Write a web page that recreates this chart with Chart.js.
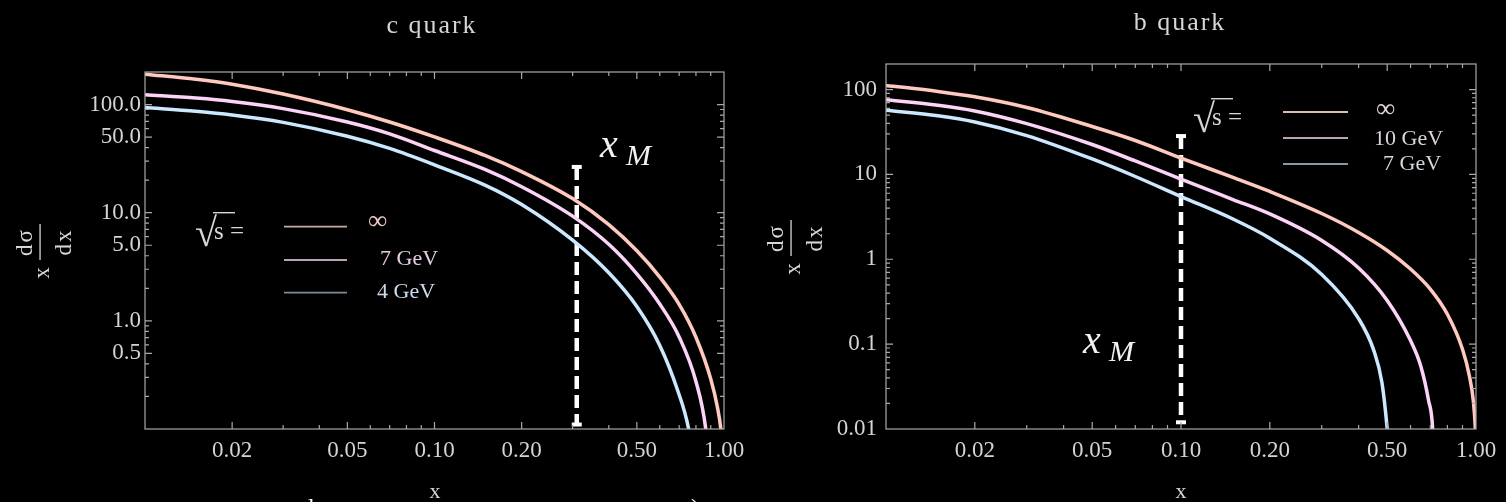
<!DOCTYPE html>
<html>
<head>
<meta charset="utf-8">
<script src="https://cdn.jsdelivr.net/npm/chart.js@4.4.1/dist/chart.umd.min.js"></script>
<style>
  html, body { margin: 0; padding: 0; background: #000; }
  #wrap { position: relative; width: 1506px; height: 502px; overflow: hidden; background: #000; }
  #cLeft { position: absolute; left: 0; top: 0; }
  #cRight { position: absolute; left: 760px; top: 0; }
</style>
</head>
<body>
<div id="wrap">
  <canvas id="cLeft" width="760" height="502"></canvas>
  <canvas id="cRight" width="746" height="502"></canvas>
</div>
<script>
// ---- c quark (left panel)
const cInfX = [0.01, 0.015, 0.02, 0.03, 0.05, 0.07, 0.1, 0.15, 0.2, 0.3, 0.4, 0.5, 0.6, 0.7, 0.8, 0.9, 0.95, 0.975, 0.99];
const cInfY = [191, 171, 154, 125, 89.6, 69, 50.2, 33.7, 24, 13.5, 7.75, 4.44, 2.54, 1.42, 0.705, 0.29, 0.157, 0.1, 0.06];
const c7X = [0.01, 0.015, 0.02, 0.03, 0.05, 0.07, 0.1, 0.15, 0.2, 0.3, 0.4, 0.5, 0.6, 0.7, 0.8, 0.865, 0.88];
const c7Y = [123, 114.7, 106.7, 91.7, 69, 53.6, 37.6, 25, 17.4, 9.3, 5.1, 2.72, 1.43, 0.71, 0.275, 0.1, 0.06];
const c4X = [0.01, 0.015, 0.02, 0.03, 0.05, 0.07, 0.1, 0.15, 0.2, 0.3, 0.4, 0.5, 0.6, 0.69, 0.755, 0.77];
const c4Y = [93.8, 86.5, 80, 68.4, 50.9, 39.3, 27.7, 17.9, 11.9, 5.57, 2.78, 1.357, 0.593, 0.232, 0.1, 0.07];
const cXM = 0.31;
const cXMSpan = [26.5, 0.11];

// ---- b quark (right panel)
const bInfX = [0.01, 0.015, 0.02, 0.03, 0.05, 0.07, 0.1, 0.15, 0.2, 0.3, 0.4, 0.5, 0.6, 0.7, 0.8, 0.9, 0.95, 0.98, 0.995, 1.0];
const bInfY = [112, 94.9, 82.2, 61.5, 36.7, 25.1, 15.6, 9.2, 6.29, 3.46, 2.07, 1.27, 0.768, 0.446, 0.225, 0.087, 0.042, 0.021, 0.01, 0.006];
const b10X = [0.01, 0.015, 0.02, 0.03, 0.05, 0.07, 0.1, 0.15, 0.2, 0.3, 0.4, 0.5, 0.6, 0.65, 0.69, 0.713, 0.72];
const b10Y = [76, 65.4, 56, 39.7, 22.5, 14.4, 8.8, 5.06, 3.42, 1.665, 0.789, 0.327, 0.11, 0.055, 0.022, 0.01, 0.004];
const b7X = [0.01, 0.015, 0.02, 0.03, 0.05, 0.07, 0.1, 0.15, 0.2, 0.3, 0.4, 0.45, 0.48, 0.5, 0.51];
const b7Y = [57, 49.1, 41.5, 28.7, 15.2, 9.45, 5.48, 2.98, 1.77, 0.662, 0.2, 0.085, 0.035, 0.01, 0.004];
const bXM = 0.1;
const bXMSpan = [28.3, 0.012];

// ---- ticks and labels
const xTicks = [0.02, 0.05, 0.1, 0.2, 0.5, 1];
const xTickLabels = ['0.02', '0.05', '0.10', '0.20', '0.50', '1.00'];
const cYTicks = [0.5, 1, 5, 10, 50, 100];
const cYTickLabels = ['0.5', '1.0', '5.0', '10.0', '50.0', '100.0'];
const bYTicks = [0.01, 0.1, 1, 10, 100];
const bYTickLabels = ['0.01', '0.1', '1', '10', '100'];
const cLegend = ['\u221E', '7 GeV', '4 GeV'];
const bLegend = ['\u221E', '10 GeV', '7 GeV'];

const colInf = '#ffc9bf', colMid = '#fdd3f8', colLow = '#cce8ff';
const SERIF = '"Liberation Serif", "DejaVu Serif", serif';

function pts(xs, ys) { return xs.map((x, i) => ({ x: x, y: ys[i] })); }

function curve(label, xs, ys, color) {
  return { label: label, data: pts(xs, ys), borderColor: color, borderWidth: 3.5,
           pointRadius: 0, cubicInterpolationMode: 'monotone', clip: 0, fill: false };
}

function marker(x, span) {
  return { label: 'xM', data: [{ x: x, y: span[0] }, { x: x, y: span[1] }],
           borderColor: '#ffffff', borderWidth: 4.5, borderDash: [13, 6],
           pointStyle: 'line', pointRadius: 5, pointBorderWidth: 4,
           pointBorderColor: '#ffffff', clip: false, tension: 0 };
}

function minorTicks(min, max, majors) {
  const out = [];
  for (let d = min; d < max * 1.0001; d *= 10) {
    for (let k = 1; k <= 9; k++) {
      const v = +(k * d).toPrecision(6);
      if (v >= min * 0.9999 && v <= max * 1.0001 && !majors.some(m => Math.abs(m - v) < v * 1e-6)) out.push(v);
    }
  }
  return out;
}

// frame with inward ticks on all four sides
const framePlugin = {
  id: 'frame',
  afterDatasetsDraw(chart) {
    const { ctx, chartArea: a, scales: { x, y } } = chart;
    const f = chart.options.plugins.frame;
    ctx.save();
    ctx.strokeStyle = '#a9a9a9';
    ctx.lineWidth = 1.2;
    ctx.strokeRect(a.left, a.top, a.right - a.left, a.bottom - a.top);
    const xs = [[f.xMajor, 7], [minorTicks(x.min, x.max, f.xMajor), 4]];
    const ys = [[f.yMajor, 7], [minorTicks(y.min, y.max, f.yMajor), 4]];
    ctx.beginPath();
    xs.forEach(([vals, len]) => vals.forEach(v => {
      const p = x.getPixelForValue(v);
      if (p < a.left + 1 || p > a.right - 1) return;
      ctx.moveTo(p, a.bottom); ctx.lineTo(p, a.bottom - len);
      ctx.moveTo(p, a.top); ctx.lineTo(p, a.top + len);
    }));
    ys.forEach(([vals, len]) => vals.forEach(v => {
      const p = y.getPixelForValue(v);
      if (p < a.top + 1 || p > a.bottom - 1) return;
      ctx.moveTo(a.left, p); ctx.lineTo(a.left + len, p);
      ctx.moveTo(a.right, p); ctx.lineTo(a.right - len, p);
    }));
    ctx.stroke();
    ctx.restore();
  }
};

// titles, axis labels, legend, x_M
const decoPlugin = {
  id: 'deco',
  afterDraw(chart) {
    const d = chart.options.plugins.deco;
    const ctx = chart.ctx;
    ctx.save();
    ctx.textBaseline = 'alphabetic';
    ctx.fillStyle = '#d6d6d6';

    // title
    ctx.font = '26px ' + SERIF;
    ctx.letterSpacing = '2px';
    ctx.textAlign = 'center';
    ctx.fillText(d.title.text, d.title.x, d.title.y);

    // x axis label
    ctx.font = '22px ' + SERIF;
    ctx.letterSpacing = '0px';
    ctx.fillText('x', d.xLabel.x, d.xLabel.y);

    // y axis label: x dσ/dx, rotated
    ctx.save();
    ctx.translate(d.yLabel.x, d.yLabel.y);
    ctx.rotate(-Math.PI / 2);
    ctx.font = '23px ' + SERIF;
    ctx.letterSpacing = '2px';
    ctx.textAlign = 'center';
    ctx.fillText('d\u03C3', 10, -8);
    ctx.fillText('dx', 10, 31);
    ctx.fillText('x', -20, 9);
    ctx.fillRect(-8, -0.6, 36, 1.3);
    ctx.restore();

    // legend
    const L = d.legend;
    ctx.letterSpacing = '0px';
    ctx.textAlign = 'left';
    ctx.fillStyle = '#d6d6d6';
    ctx.font = '40px ' + SERIF;
    ctx.fillText('\u221A', L.sqrtX - 2, L.sqrtBase + 7);
    ctx.font = '25px ' + SERIF;
    ctx.fillText('s =', L.sqrtX + 17, L.sqrtBase);
    ctx.fillRect(L.sqrtX + 16, L.sqrtBase - 27, 22, 1.4);
    L.lines.forEach((ln, i) => {
      ctx.strokeStyle = L.lineColors[i];
      ctx.lineWidth = 1.8;
      ctx.beginPath(); ctx.moveTo(ln[0], ln[2]); ctx.lineTo(ln[1], ln[2]); ctx.stroke();
    });
    L.labels.forEach((t, i) => {
      const p = L.textPos[i];
      ctx.fillStyle = L.textColors[i];
      ctx.font = (t === '\u221E' ? '27px ' : '22px ') + SERIF;
      ctx.fillText(t, p[0], p[1]);
    });

    // x_M annotation
    ctx.fillStyle = '#f2f2f2';
    ctx.font = 'italic 40px ' + SERIF;
    ctx.fillText('x', d.xm.x, d.xm.y);
    ctx.font = 'italic 30px ' + SERIF;
    ctx.fillText('M', d.xm.x + 26, d.xm.y + 8);

    // glyph tops cut by the lower edge
    if (d.cut) {
      ctx.fillStyle = '#ffffff';
      ctx.font = '24px ' + SERIF;
      d.cut.forEach(c => ctx.fillText(c[0], c[1], c[2]));
    }
    ctx.restore();
  }
};

function makeChart(canvas, o) {
  return new Chart(canvas, {
    type: 'line',
    data: { datasets: o.datasets },
    options: {
      responsive: false,
      animation: false,
      devicePixelRatio: 1,
      layout: { padding: { left: 0, right: o.padRight, top: o.padTop, bottom: 0 } },
      plugins: {
        legend: { display: false },
        title: { display: false },
        tooltip: { enabled: false },
        frame: { xMajor: xTicks, yMajor: o.yTicks },
        deco: o.deco
      },
      scales: {
        x: {
          type: 'logarithmic', min: 0.01, max: 1, bounds: 'data',
          grid: { display: false, drawTicks: false }, border: { display: false },
          afterBuildTicks: s => { s.ticks = xTicks.map(v => ({ value: v })); },
          afterFit: s => { s.height = o.axisH; },
          ticks: { autoSkip: false, maxRotation: 0, padding: 8, color: '#d4d4d4',
                   font: { family: SERIF, size: 23 },
                   callback: (v, i) => xTickLabels[i] }
        },
        y: {
          type: 'logarithmic', min: o.yMin, max: o.yMax, bounds: 'data',
          grid: { display: false, drawTicks: false }, border: { display: false },
          afterBuildTicks: s => { s.ticks = o.yTicks.map(v => ({ value: v })); },
          afterFit: s => { s.width = o.axisW; },
          ticks: { autoSkip: false, padding: o.yPad, color: '#d4d4d4',
                   font: { family: SERIF, size: 23 },
                   callback: (v, i) => o.yLabels[i] }
        }
      }
    },
    plugins: [framePlugin, decoPlugin]
  });
}

makeChart(document.getElementById('cLeft'), {
  datasets: [
    curve('\u221E', cInfX, cInfY, colInf),
    curve('7 GeV', c7X, c7Y, colMid),
    curve('4 GeV', c4X, c4Y, colLow),
    marker(cXM, cXMSpan)
  ],
  axisW: 145, axisH: 73, padRight: 36, padTop: 72,
  yMin: 0.1, yMax: 200, yTicks: cYTicks, yLabels: cYTickLabels, yPad: 4,
  deco: {
    title: { text: 'c quark', x: 432, y: 33 },
    xLabel: { x: 435, y: 498 },
    yLabel: { x: 40, y: 252 },
    legend: {
      sqrtX: 197, sqrtBase: 239,
      lines: [[284, 347, 226.7], [284, 347, 260], [284, 347, 292.7]],
      lineColors: ['#c9a9a4', '#b9a2b8', '#7d8c99'],
      labels: cLegend,
      textPos: [[368, 229], [380, 265], [377, 298]],
      textColors: ['#f0c8c2', '#e6cde4', '#cddced']
    },
    xm: { x: 600, y: 157 },
    cut: [['l', 308, 515], [')', 691, 515]]
  }
});

makeChart(document.getElementById('cRight'), {
  datasets: [
    curve('\u221E', bInfX, bInfY, colInf),
    curve('10 GeV', b10X, b10Y, colMid),
    curve('7 GeV', b7X, b7Y, colLow),
    marker(bXM, bXMSpan)
  ],
  axisW: 126, axisH: 73, padRight: 30, padTop: 64,
  yMin: 0.01, yMax: 200, yTicks: bYTicks, yLabels: bYTickLabels, yPad: 9,
  deco: {
    title: { text: 'b quark', x: 420, y: 30 },
    xLabel: { x: 421, y: 498 },
    yLabel: { x: 31, y: 248 },
    legend: {
      sqrtX: 435, sqrtBase: 125,
      lines: [[523, 588, 112], [523, 588, 138], [523, 588, 164]],
      lineColors: ['#e6b9b1', '#b9a2b8', '#8a98a3'],
      labels: bLegend,
      textPos: [[616, 117], [614, 145], [623, 170]],
      textColors: ['#e4d6d4', '#dcd4dc', '#d0d8e0']
    },
    xm: { x: 323, y: 353 }
  }
});
</script>
</body>
</html>
